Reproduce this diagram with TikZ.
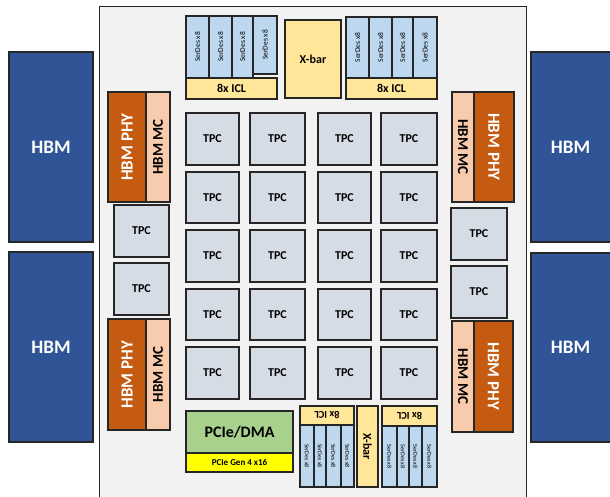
\documentclass[tikz,border=0pt]{standalone}
\usepackage{fontspec}
\setmainfont{Carlito}
\definecolor{hbmblue}{HTML}{2F5597}
\definecolor{diebg}{HTML}{F2F2F2}
\definecolor{tpcfill}{HTML}{D6DCE5}
\definecolor{phyfill}{HTML}{C55A11}
\definecolor{mcfill}{HTML}{F8CBAD}
\definecolor{serdesfill}{HTML}{BDD7EE}
\definecolor{iclfill}{HTML}{FFE699}
\definecolor{pciefill}{HTML}{A9D18E}
\definecolor{genfill}{HTML}{FFFF00}
\definecolor{edge}{HTML}{262626}
\newcommand{\bx}[7]{\node[#2, minimum width={(#5-#3)*1pt}, minimum height={(#6-#4)*1pt}, anchor=north west] (#1) at (#3,#4) {#7};}
\begin{document}
\begin{tikzpicture}[x=1pt,y=-1pt,
  blk/.style={draw=edge, line width=1.2pt, inner sep=0pt, outer sep=0pt, font=\bfseries},
  hbm/.style={blk, fill=hbmblue, text=white, font=\fontsize{19}{19}\selectfont\bfseries},
  tpc/.style={blk, fill=tpcfill, font=\fontsize{12}{12}\selectfont\bfseries},
  phy/.style={blk, fill=phyfill, text=white, font=\fontsize{17}{17}\selectfont\bfseries},
  mc/.style={blk, fill=mcfill, font=\fontsize{15}{15}\selectfont\bfseries},
  serdes/.style={blk, fill=serdesfill, font=\fontsize{7.5}{7.5}\selectfont},
  serdessm/.style={blk, fill=serdesfill, font=\fontsize{6}{6}\selectfont},
  icl/.style={blk, fill=iclfill, font=\fontsize{12}{12}\selectfont\bfseries},
  iclsm/.style={blk, fill=iclfill, font=\fontsize{10.5}{10.5}\selectfont\bfseries},
  pcie/.style={blk, fill=pciefill, font=\fontsize{16}{16}\selectfont\bfseries},
  gen/.style={blk, fill=genfill, font=\fontsize{9}{9}\selectfont\bfseries},
  die/.style={draw=edge, line width=1pt, fill=diebg, inner sep=0pt, outer sep=0pt}]
\useasboundingbox (0,0) rectangle (610,496);
\clip (0,0) rectangle (610,496);
\fill[white] (0,0) rectangle (610,496);
% die
\bx{die}{die}{99}{6}{526}{510}{}
% HBM stacks
\bx{hbmL1}{hbm}{9}{52}{93}{242}{HBM}
\bx{hbmL2}{hbm}{9}{252}{93}{442}{HBM}
\bx{hbmR1}{hbm}{531}{52}{615}{242}{\hspace*{-5pt}HBM}
\bx{hbmR2}{hbm}{531}{253}{615}{442}{\hspace*{-5pt}HBM}
% HBM PHY / MC
\bx{phyL1}{phy}{108}{92}{146}{202}{\rotatebox{90}{HBM PHY}}
\bx{mcL1}{mc}{146}{92}{170}{202}{\rotatebox{90}{HBM MC}}
\bx{phyL2}{phy}{108}{319}{146}{430}{\rotatebox{90}{HBM PHY}}
\bx{mcL2}{mc}{146}{319}{170}{430}{\rotatebox{90}{HBM MC}}
\bx{mcR1}{mc}{452}{92}{474}{202}{\rotatebox{-90}{HBM MC}}
\bx{phyR1}{phy}{474}{92}{514}{202}{\rotatebox{-90}{HBM PHY}}
\bx{mcR2}{mc}{452}{321}{474}{432}{\rotatebox{-90}{HBM MC}}
\bx{phyR2}{phy}{474}{321}{513}{432}{\rotatebox{-90}{HBM PHY}}
% side TPCs
\bx{tpcL1}{tpc}{114}{205}{169}{257}{TPC}
\bx{tpcL2}{tpc}{114}{263}{169}{315}{TPC}
\bx{tpcR1}{tpc}{451}{208}{507}{260}{TPC}
\bx{tpcR2}{tpc}{451}{266}{507}{318}{TPC}
% TPC grid
\foreach \r/\ya/\yb in {1/113/165,2/172/223,3/230/282,4/289/340,5/347/399}{
  \foreach \c/\xa/\xb in {1/186/239,2/250/305,3/318/371,4/381/437}{
    \bx{tpc\r\c}{tpc}{\xa}{\ya}{\xb}{\yb}{TPC}
  }
}
% top left SerDes + ICL
\bx{sdTL1}{serdes}{186}{16}{209}{78}{\rotatebox{90}{SerDes x8}}
\bx{sdTL2}{serdes}{209}{16}{232}{78}{\rotatebox{90}{SerDes x8}}
\bx{sdTL3}{serdes}{232}{16}{253}{78}{\rotatebox{90}{SerDes x8}}
\bx{sdTL4}{serdes}{253}{16}{277}{74}{\rotatebox{90}{SerDes x8}}
\bx{iclTL}{icl}{186}{78}{277}{99}{8x ICL}
% top X-bar
\bx{xbarT}{icl}{285}{20}{341}{98}{X-bar}
% top right SerDes + ICL
\bx{sdTR1}{serdes}{346}{17}{369}{78}{\rotatebox{90}{SerDes x8}}
\bx{sdTR2}{serdes}{369}{17}{392}{78}{\rotatebox{90}{SerDes x8}}
\bx{sdTR3}{serdes}{392}{17}{413}{78}{\rotatebox{90}{SerDes x8}}
\bx{sdTR4}{serdes}{413}{17}{437}{78}{\rotatebox{90}{SerDes x8}}
\bx{iclTR}{icl}{346}{78}{437}{99}{8x ICL}
% bottom left ICL + SerDes
\bx{iclBL}{iclsm}{300}{406}{354}{425}{\rotatebox{180}{8x ICL}}
\bx{sdBL1}{serdessm}{300}{425}{314}{487}{\rotatebox{-90}{SerDes x8}}
\bx{sdBL2}{serdessm}{314}{425}{326}{487}{\rotatebox{-90}{SerDes x8}}
\bx{sdBL3}{serdessm}{326}{425}{341}{487}{\rotatebox{-90}{SerDes x8}}
\bx{sdBL4}{serdessm}{341}{425}{354}{487}{\rotatebox{-90}{SerDes x8}}
% bottom X-bar
\bx{xbarB}{icl}{357}{406}{378}{487}{\rotatebox{-90}{X-bar}}
% bottom right ICL + SerDes
\bx{iclBR}{iclsm}{382}{406}{437}{426}{\rotatebox{180}{8x ICL}}
\bx{sdBR1}{serdessm}{382}{426}{397}{487}{\rotatebox{-90}{SerDes x8}}
\bx{sdBR2}{serdessm}{397}{426}{409}{487}{\rotatebox{-90}{SerDes x8}}
\bx{sdBR3}{serdessm}{409}{426}{422}{487}{\rotatebox{-90}{SerDes x8}}
\bx{sdBR4}{serdessm}{422}{426}{437}{487}{\rotatebox{-90}{SerDes x8}}
% PCIe
\bx{pcie}{pcie}{186}{411}{293}{453}{PCIe/DMA}
\bx{gen}{gen}{186}{453}{293}{472}{PCIe Gen 4 x16}
\end{tikzpicture}
\end{document}
